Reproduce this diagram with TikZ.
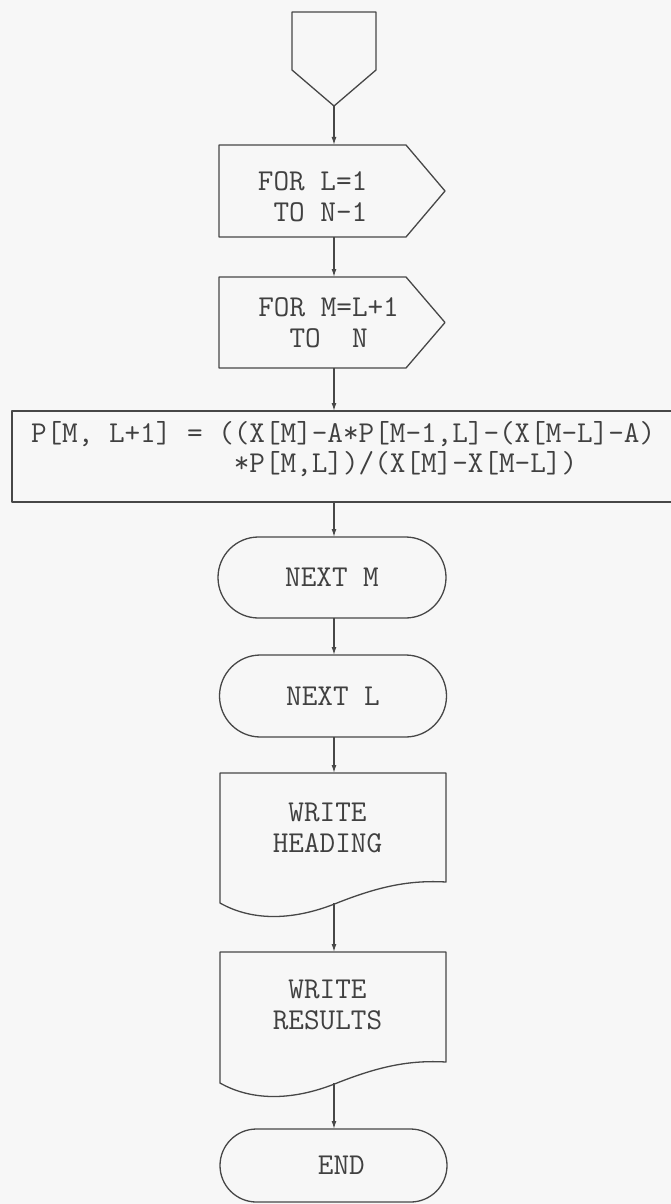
\documentclass[tikz,border=0pt]{standalone}
\usetikzlibrary{calc,arrows.meta,shapes.misc}

% one blank character cell of the typewriter font
\newcommand\chsp{\hphantom{0}}

\begin{document}
\begin{tikzpicture}[x=1pt,y=-1pt,
  ink/.style={draw=black!72, line width=1.3pt, line join=round},
  frame/.style={rectangle, draw=none, inner sep=0pt, outer sep=0pt},
  lbl/.style={font=\ttfamily\fontsize{30.3}{31}\selectfont, text=black!75,
    inner sep=0pt, outer sep=0pt, align=center},
  term/.style={rounded rectangle, ink, inner sep=0pt, outer sep=0pt,
    font=\ttfamily\fontsize{30.3}{31}\selectfont, text=black!75},
  arr/.style={ink, -{Latex[length=8pt,width=5pt]}}
]
\fill[black!3] (0,0) rectangle (671,1204);
\useasboundingbox (0,0) rectangle (671,1204);

% vertical flow line
\coordinate (spine) at (334,0);

% off-page connector
\node[frame, minimum width=84, minimum height=58] (start) at (334,41) {};
\coordinate (start-tip) at ($(start.south)+(0,36)$);
\draw[ink] (start.north west) -- (start.north east) -- (start.south east)
  -- (start-tip) -- (start.south west) -- cycle;

% loop heads
\node[frame, minimum width=187, minimum height=92] (for1) at (312.5,191) {};
\draw[ink] (for1.north west) -- (for1.north east) -- ($(for1.east)+(39,0)$)
  -- (for1.south east) -- (for1.south west) -- cycle;
\node[lbl, align=left] (for1-txt) at (312.6,197) {FOR L=1\\\chsp TO N-1};

\node[frame, minimum width=187, minimum height=91] (for2) at (312.5,322.5) {};
\draw[ink] (for2.north west) -- (for2.north east) -- ($(for2.east)+(39,0)$)
  -- (for2.south east) -- (for2.south west) -- cycle;
\node[lbl, align=left] (for2-txt) at (328.6,322.5) {FOR M=L+1\\\chsp\chsp TO\chsp\chsp N};

% process box
\node[frame, ink, minimum width=663, minimum height=91] (calc) at (343.5,456.5) {};
\node[lbl, anchor=base west] (eq1) at (31,442) {P[M, L+1] = ((X[M]-A*P[M-1,L]-(X[M-L]-A)};
\node[lbl, anchor=base west] (eq2) at (31,472)
  {\chsp\chsp\chsp\chsp\chsp\chsp\chsp\chsp\chsp\chsp\chsp\chsp\chsp *P[M,L])/(X[M]-X[M-L])};

% loop ends
\node[term, minimum width=228, minimum height=81] (nm) at (332,577.5) {NEXT M};
\node[term, minimum width=227, minimum height=82] (nl) at (333,696) {NEXT L};

% documents
\node[frame, minimum width=226, minimum height=130] (wh) at (333,838) {};
\draw[ink] (wh.south west)
  .. controls ($(wh.south west)+(30,17)$) and ($(wh.south west)+(70,19)$) .. ($(wh.south west)+(117,0)$)
  .. controls ($(wh.south west)+(160,-17)$) and ($(wh.south west)+(190,-23)$) .. ($(wh.south east)+(0,-21)$)
  -- (wh.north east) -- (wh.north west) -- cycle;
\node[lbl] (wh-txt) at (327.5,828) {WRITE\\HEADING};

\node[frame, minimum width=226, minimum height=131] (wr) at (333,1017.5) {};
\draw[ink] (wr.south west)
  .. controls ($(wr.south west)+(30,17)$) and ($(wr.south west)+(70,19)$) .. ($(wr.south west)+(117,0)$)
  .. controls ($(wr.south west)+(160,-17)$) and ($(wr.south west)+(190,-23)$) .. ($(wr.south east)+(0,-21)$)
  -- (wr.north east) -- (wr.north west) -- cycle;
\node[lbl] (wr-txt) at (327.5,1005) {WRITE\\RESULTS};

% terminal
\node[term, minimum width=227, minimum height=73] (stop) at (333.5,1165.5) {\hphantom{E}END};

% flow lines
\draw[arr] (start-tip) -- (for1.north -| spine);
\draw[arr] (for1.south -| spine) -- (for2.north -| spine);
\draw[arr] (for2.south -| spine) -- (calc.north -| spine);
\draw[arr] (calc.south -| spine) -- (nm.north -| spine);
\draw[arr] (nm.south -| spine) -- (nl.north -| spine);
\draw[arr] (nl.south -| spine) -- (wh.north -| spine);
\draw[arr] (wh.south -| spine) -- (wr.north -| spine);
\draw[arr] (wr.south -| spine) -- (stop.north -| spine);
\end{tikzpicture}
\end{document}
